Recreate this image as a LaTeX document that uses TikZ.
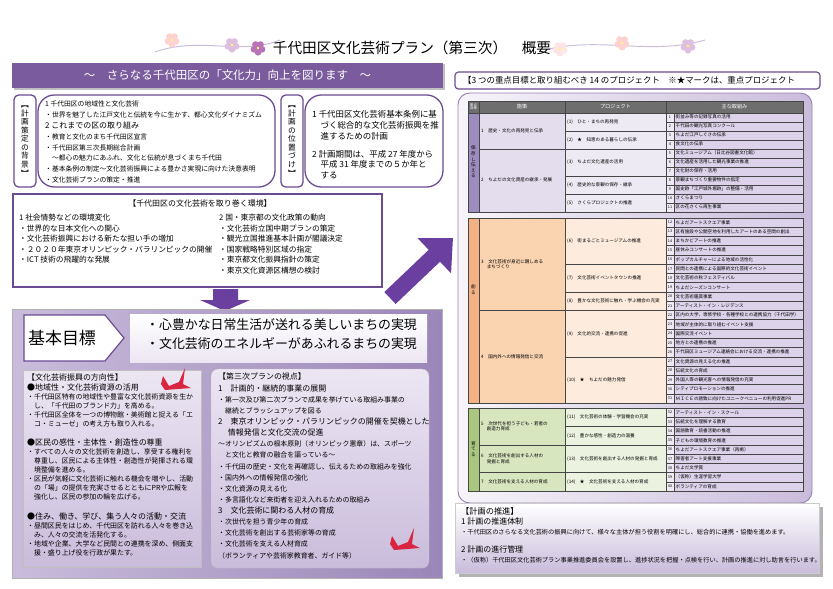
\documentclass[tikz,border=0pt]{standalone}
\usepackage{fontspec}
\setmainfont{Noto Sans CJK JP}
\usetikzlibrary{positioning,calc,arrows.meta}

\definecolor{plum}{HTML}{6B4C93}
\definecolor{banner}{HTML}{7A5C9E}
\definecolor{arrowpurple}{HTML}{6A3FA0}
\definecolor{lavlight}{HTML}{ECE6F3}
\definecolor{lavmid}{HTML}{C9BCDB}
\definecolor{lavdark}{HTML}{9A86B8}
\definecolor{itemfill}{HTML}{DCD3EA}
\definecolor{numfill}{HTML}{EEEAF4}
\definecolor{headgray}{HTML}{6E6E6E}
\definecolor{goalA}{HTML}{9D8CBF}
\definecolor{measA}{HTML}{E4DDEE}
\definecolor{projA}{HTML}{EEEAF4}
\definecolor{goalB}{HTML}{F4B183}
\definecolor{measB}{HTML}{FAD3B0}
\definecolor{projB}{HTML}{FDEBDD}
\definecolor{goalC}{HTML}{A9C77E}
\definecolor{measC}{HTML}{D8E6C0}
\definecolor{projC}{HTML}{EBF2DF}
\definecolor{crane}{HTML}{D9253F}

\newcommand\fsz[2]{\fontsize{#1}{#2}\selectfont}

% table cell spanning several rows
\newcommand\spancell[9]{%
  \draw[tline, fill=#8] (#2,{#4+#6*#5}) rectangle (#3,{#4+(#6+#7)*#5});
  \node[tfont, anchor=west, align=left] (#1) at ({#2+2},{#4+(#6+#7/2)*#5}) {#9};}

% numbered rows of the last column
\newcommand\itemrows[3]{%
  \foreach \n/\t [count=\k from 0] in {#3} {
    \draw[tline, fill=numfill] (666,{#1+\k*#2}) rectangle (674,{#1+(\k+1)*#2});
    \node[numfont] (num\n) at (670,{#1+(\k+0.5)*#2}) {\n};
    \draw[tline, fill=itemfill] (674,{#1+\k*#2}) rectangle (803,{#1+(\k+1)*#2});
    \node[tfont, anchor=west] (item\n) at (675.5,{#1+(\k+0.5)*#2}) {\t};
  }}

% small flower of the title line
\newcommand\flower[3]{%
  \foreach \a in {90,162,...,378}
    \fill[#3] ($(#1,#2)+(\a:4.2)$) circle (3.4);
  \fill[yellow!60] (#1,#2) circle (1.4);}

% paper crane
\newcommand\crane[2]{%
  \fill[crane] (#1,#2) -- ++(6,10) -- ++(10,-4) -- ++(6,-14) -- ++(-2,16) -- ++(8,4)
    -- ++(-26,2) -- ++(-4,-6) -- cycle;}

\begin{document}
\begin{tikzpicture}[x=0.03cm, y=-0.03cm,
    rbox/.style={draw=plum, line width=1.1pt, fill=white, rounded corners=9pt},
    vlabel/.style={align=center, inner sep=0pt, font=\fsz{6.6}{7.3}},
    body/.style={anchor=north west, align=left, inner sep=0pt},
    tline/.style={draw=gray!55!black, line width=0.3pt},
    tfont/.style={inner sep=0pt, font=\fsz{3.9}{4.8}},
    numfont/.style={inner sep=0pt, font=\fsz{3.2}{4}},
    headcell/.style={tline, fill=headgray},
    headtext/.style={inner sep=0pt, text=white, font=\fsz{4.4}{5}}
]
\useasboundingbox (0,0) rectangle (833,589);
\fill[white] (0,0) rectangle (833,589);

% title with flowers
\draw[lavmid, line width=0.8pt] (155,52) .. controls (200,36) and (240,56) .. (280,40);
\draw[lavmid, line width=0.8pt] (545,50) .. controls (600,36) and (650,56) .. (705,40);
\flower{172}{40}{pink!70}
\flower{232}{45}{violet!25}
\flower{258}{48}{violet!55}
\flower{560}{49}{pink!40}
\flower{622}{43}{pink!70}
\flower{688}{46}{violet!25}
\node[font=\fsz{12.5}{14}] (title) at (412,48) {千代田区文化芸術プラン（第三次）　概要};

% banner
\fill[gray!50] (14,64) rectangle (445,90);
\node[fill=banner, minimum width=431*0.03cm, minimum height=25*0.03cm, text=white,
      font=\fsz{9.8}{11}] (banner) at (227.5,75) {～　さらなる千代田区の「文化力」向上を図ります　～};

% background and position of the plan
\draw[rbox, rounded corners=4pt] (14,95) rectangle (36,187);
\node[vlabel] (lblbg) at (25,141) {︻\\計\\画\\策\\定\\の\\背\\景\\︼};
\draw[rbox, rounded corners=14pt] (38,95) rectangle (275,187);
\node[body, font=\fsz{5.8}{9.2pt}] (bgtext) at (45,101) {%
  1 千代田区の地域性と文化芸術\\
  ・世界を魅了した江戸文化と伝統を今に生かす、都心文化ダイナミズム\\
  {\fsz{6.8}{7}2 これまでの区の取り組み}\\
  ・教育と文化のまち千代田区宣言\\
  ・千代田区第三次長期総合計画\\
  　～都心の魅力にあふれ、文化と伝統が息づくまち千代田\\
  ・基本条例の制定～文化芸術振興による豊かさ実現に向けた決意表明\\
  ・文化芸術プランの策定・推進};

\draw[rbox, rounded corners=4pt] (281,95) rectangle (303,187);
\node[vlabel] (lblpos) at (292,141) {︻\\計\\画\\の\\位\\置\\づ\\け\\︼};
\draw[rbox, rounded corners=14pt] (305,95) rectangle (443,187);
\node[body, font=\fsz{7.2}{9.3}] (postext) at (312,110) {%
  1 千代田区文化芸術基本条例に基\\
  　づく総合的な文化芸術振興を推\\
  　進するための計画\\[6pt]
  2 計画期間は、平成 27 年度から\\
  　平成 31 年度までの５か年と\\
  　する};

% environment
\draw[draw=plum, line width=1.8pt, fill=white] (13,194) rectangle (382,287);
\node[font=\fsz{6.8}{8}] (envtitle) at (200,203) {【千代田区の文化芸術を取り巻く環境】};
\node[body, font=\fsz{6.6}{9}] (envleft) at (19,214) {%
  1 社会情勢などの環境変化\\
  ・世界的な日本文化への関心\\
  ・文化芸術振興における新たな担い手の増加\\
  ・２０２０年東京オリンピック・パラリンピックの開催\\
  ・ICT 技術の飛躍的な発展};
\node[body, font=\fsz{6.6}{9}] (envright) at (219,214) {%
  2 国・東京都の文化政策の動向\\
  ・文化芸術立国中期プランの策定\\
  ・観光立国推進基本計画が閣議決定\\
  ・国家戦略特別区域の指定\\
  ・東京都文化振興指針の策定\\
  ・東京文化資源区構想の検討};

% arrows
\fill[arrowpurple] (213,289) -- (238,289) -- (238,300) -- (250,300) -- (225,311)
  -- (200,300) -- (213,300) -- cycle;
\coordinate (diagtail) at (390,298);
\coordinate (diagtip) at (453,238);
\draw[arrowpurple, line width=14pt, -{Triangle[length=22pt, width=40pt]}] (diagtail) -- (diagtip);

% basic goals panel
\shade[left color=lavmid, right color=lavdark, draw=gray!60, line width=0.6pt] (12,309) rectangle (442,578);
\fill[white, draw=plum, line width=1pt] (24,315) -- (105,315) -- (124,338) -- (105,361) -- (24,361) -- cycle;
\node[font=\fsz{14.5}{16}] (goal) at (62,338) {基本目標};
\shade[top color=white, bottom color=lavlight] (130,314) rectangle (427,362);
\node[body, font=\fsz{11}{16.5}] (goaltext) at (146,318) {%
  ・心豊かな日常生活が送れる美しいまちの実現\\
  ・文化芸術のエネルギーがあふれるまちの実現};

\shade[top color=lavlight, bottom color=lavmid, draw=gray!50] (23,370) rectangle (201,567);
\node[body, font=\fsz{5.9}{7.7}] (dirtext) at (27,374) {%
  {\fsz{6.8}{7}【文化芸術振興の方向性】}\\
  {\fsz{6.8}{7}●地域性・文化芸術資源の活用}\\
  ・千代田区特有の地域性や豊富な文化芸術資源を生か\\
  　し、「千代田のブランド力」を高める。\\
  ・千代田区全体を一つの博物館・美術館と捉える「エ\\
  　コ・ミューゼ」の考え方も取り入れる。\\[9pt]
  {\fsz{6.8}{7}●区民の感性・主体性・創造性の尊重}\\
  ・すべての人々の文化芸術を創造し、享受する権利を\\
  　尊重し、区民による主体性・創造性が発揮される環\\
  　境整備を進める。\\
  ・区民が気軽に文化芸術に触れる機会を増やし、活動\\
  　の「場」の提供を充実させるとともにPRや広報を\\
  　強化し、区民の参加の輪を広げる。\\[9pt]
  {\fsz{6.8}{7}●住み、働き、学び、集う人々の活動・交流}\\
  ・昼間区民をはじめ、千代田区を訪れる人々を巻き込\\
  　み、人々の交流を活発化する。\\
  ・地域や企業、大学など民間との連携を深め、側面支\\
  　援・盛り上げ役を行政が果たす。};

\shade[top color=lavlight, bottom color=lavmid, draw=gray!50, rounded corners=6pt] (211,369) rectangle (429,568);
\node[body, font=\fsz{5.9}{9.5}] (viewtext) at (218,373) {%
  {\fsz{6.8}{7}【第三次プランの視点】}\\
  {\fsz{6.8}{7}1　計画的・継続的事業の展開}\\
  ・第一次及び第二次プランで成果を挙げている取組み事業の\\
  　継続とブラッシュアップを図る\\
  {\fsz{6.8}{7}2　東京オリンピック・パラリンピックの開催を契機とした}\\
  {\fsz{6.8}{7}　 情報発信と文化交流の促進}\\
  ～オリンピズムの根本原則（オリンピック憲章）は、スポーツ\\
  　と文化と教育の融合を謳っている～\\
  ・千代田の歴史・文化を再確認し、伝えるための取組みを強化\\
  ・国内外への情報発信の強化\\
  ・文化資源の見える化\\
  ・多言語化など来街者を迎え入れるための取組み\\
  {\fsz{6.8}{7}3　文化芸術に関わる人材の育成}\\
  ・次世代を担う青少年の育成\\
  ・文化芸術を創出する芸術家等の育成\\
  ・文化芸術を支える人材育成\\
  （ボランティアや芸術家教育者、ガイド等）};
\crane{163}{376}
\crane{392}{536}

% projects header
\draw[draw=plum, line width=1pt, fill=white, rounded corners=3pt] (455,72) rectangle (820,89);
\node[font=\fsz{7.2}{8}, anchor=west] (projtitle) at (459,80.5)
  {【3 つの重点目標と取り組むべき 14 のプロジェクト　※★マークは、重点プロジェクト};

% table container
\shade[left color=white!85!lavmid, right color=lavmid, draw=plum!70, line width=0.8pt,
  rounded corners=10pt] (458,93) rectangle (812,503);

% header row
\draw[headcell] (468,100.7) rectangle (479,112.7);
\node[headtext, font=\fsz{2.8}{3}, align=center] (hgoal) at (473.5,106.7) {重点\\目標};
\draw[headcell] (479,100.7) rectangle (565,112.7);
\node[headtext] (hmeasure) at (522,106.7) {施策};
\draw[headcell] (565,100.7) rectangle (666,112.7);
\node[headtext] (hproject) at (615.5,106.7) {プロジェクト};
\draw[headcell] (666,100.7) rectangle (803,112.7);
\node[headtext] (hitem) at (734.5,106.7) {主な取組み};

% section 1: preserve and hand down
\draw[tline, fill=goalA] (468,112.7) rectangle (479,211.7);
\node[tfont, align=center] (goalA) at (473.5,162) {保\\存\\し\\伝\\え\\る};
\spancell{measA1}{479}{565}{112.7}{9}{0}{4}{measA}{1　歴史・文化の再発見と伝承}
\spancell{measA2}{479}{565}{112.7}{9}{4}{7}{measA}{2　ちよだの文化資産の継承・発展}
\spancell{proj1}{565}{666}{112.7}{9}{0}{2}{projA}{(1)　ひと・まちの再発見}
\spancell{proj2}{565}{666}{112.7}{9}{2}{2}{projA}{(2)　★　知恵のある暮らしの伝承}
\spancell{proj3}{565}{666}{112.7}{9}{4}{3}{projA}{(3)　ちよだ文化遺産の活用}
\spancell{proj4}{565}{666}{112.7}{9}{7}{2}{projA}{(4)　歴史的な景観の保存・継承}
\spancell{proj5}{565}{666}{112.7}{9}{9}{2}{projA}{(5)　さくらプロジェクトの推進}
\itemrows{112.7}{9}{1/街並み等の記録写真の活用, 2/千代田の観光写真コンクール,
  3/ちよだ江戸しぐさの伝承, 4/食文化の伝承, 5/文化ミュージアム（日比谷図書文化館）,
  6/文化遺産を活用した観光事業の推進, 7/文化財の保存・活用, 8/景観まちづくり重要物件の指定,
  9/国史跡「江戸城外堀跡」の整備・活用, 10/さくらまつり, 11/区の花さくら再生事業}

% section 2: create
\draw[tline, fill=goalB] (468,217.7) rectangle (479,403);
\node[tfont, align=center] (goalB) at (473.5,290) {創\\る};
\spancell{measB3}{479}{565}{217.7}{9.27}{0}{10}{measB}{3　文化芸術が身近に親しめる\\　 まちづくり}
\spancell{measB4}{479}{565}{217.7}{9.27}{10}{10}{measB}{4　国内外への情報発信と交流}
\spancell{proj6}{565}{666}{217.7}{9.27}{0}{5}{projB}{(6)　街まるごとミュージアムの推進}
\spancell{proj7}{565}{666}{217.7}{9.27}{5}{3}{projB}{(7)　文化芸術イベントタウンの推進}
\spancell{proj8}{565}{666}{217.7}{9.27}{8}{2}{projB}{(8)　豊かな文化芸術に触れ・学ぶ機会の充実}
\spancell{proj9}{565}{666}{217.7}{9.27}{10}{5}{projB}{(9)　文化的交流・連携の促進}
\spancell{proj10}{565}{666}{217.7}{9.27}{15}{5}{projB}{(10)　★　ちよだの魅力発信}
\itemrows{217.7}{9.27}{12/ちよだアートスクエア事業, 13/区有施設や公開空地を利用したアートのある空間の創出,
  14/まちかどアートの推進, 15/昼休みコンサートの推進, 16/ポップカルチャーによる地域の活性化,
  17/民間との連携による国際的文化芸術イベント, 18/文化芸術の秋フェスティバル,
  19/ちよだシーズンコンサート, 20/文化芸術鑑賞事業, 21/アーティスト・イン・レジデンス,
  22/区内の大学、専修学校・各種学校との連携協力（千代田学）, 23/地域が主体的に取り組むイベント支援,
  24/国際交流イベント, 25/地方との連携の推進, 26/千代田区ミュージアム連絡会における交流・連携の推進,
  27/文化資源の見える化の推進, 28/伝統文化の育成, 29/外国人等の観光客への情報発信の充実,
  30/シティプロモーションの推進, 31/ＭＩＣＥの誘致に向けたユニークベニューの利用促進PR}

% section 3: nurture
\draw[tline, fill=goalC] (468,408) rectangle (479,491);
\node[tfont, align=center] (goalC) at (473.5,449) {育\\て\\る};
\spancell{measC5}{479}{565}{408}{9.22}{0}{4}{measC}{5　次世代を担う子ども・若者の\\　 創造力育成}
\spancell{measC6}{479}{565}{408}{9.22}{4}{3}{measC}{6　文化芸術を創出する人材の\\　 発掘と育成}
\spancell{measC7}{479}{565}{408}{9.22}{7}{2}{measC}{7　文化芸術を支える人材の育成}
\spancell{proj11}{565}{666}{408}{9.22}{0}{2}{projC}{(11)　文化芸術の体験・学習機会の充実}
\spancell{proj12}{565}{666}{408}{9.22}{2}{2}{projC}{(12)　豊かな感性・創造力の涵養}
\spancell{proj13}{565}{666}{408}{9.22}{4}{3}{projC}{(13)　文化芸術を創出する人材の発掘と育成}
\spancell{proj14}{565}{666}{408}{9.22}{7}{2}{projC}{(14)　★　文化芸術を支える人材の育成}
\itemrows{408}{9.22}{32/アーティスト・イン・スクール, 33/伝統文化を理解する教育,
  34/国語教育・読書活動の推進, 35/子どもの環境教育の推進, 36/ちよだアートスクエア事業（再掲）,
  37/障害者アート支援事業, 38/ちよだ文学賞, 39/（仮称）生涯学習大学, 40/ボランティアの育成}

% promotion of the plan
\fill[gray!60] (459,507) rectangle (823,577);
\shade[top color=white, bottom color=lavmid, draw=gray!40] (455,503) rectangle (819,573);
\node[body, font=\fsz{5.3}{8.6}] (promo) at (461,507) {%
  {\fsz{7}{8}【計画の推進】}\\
  {\fsz{6.8}{8}1 計画の推進体制}\\
  ・千代田区のさらなる文化芸術の振興に向けて、様々な主体が担う役割を明確にし、総合的に連携・協働を進めます。\\[7pt]
  {\fsz{6.8}{8}2 計画の進行管理}\\
  ・（仮称）千代田区文化芸術プラン事業推進委員会を設置し、進捗状況を把握・点検を行い、計画の推進に対し助言を行います。};
\end{tikzpicture}
\end{document}
